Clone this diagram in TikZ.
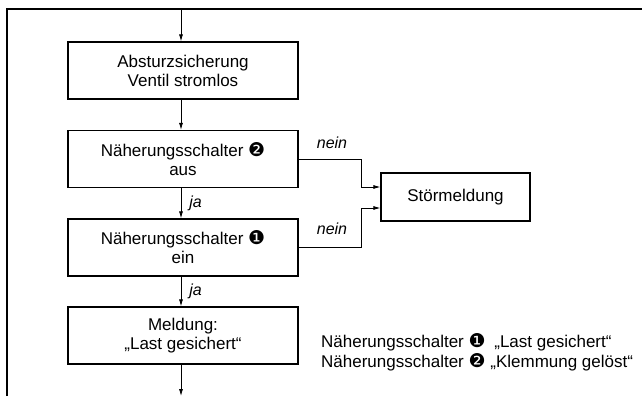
\documentclass[tikz,border=0pt]{standalone}
\usepackage{fontspec}
\setmainfont{Liberation Sans}
\newfontfamily\dingfont{DejaVu Sans}
\usetikzlibrary{arrows.meta}
\newcommand{\dingnum}[1]{{\dingfont\fontsize{19}{19}\selectfont #1}}

\begin{document}
\begin{tikzpicture}[x=1pt,y=-1pt,
  box/.style={draw,line width=1.1pt,minimum width=230pt,minimum height=57pt,
    align=center,inner sep=0pt,font=\fontsize{17}{19}\selectfont},
  flow/.style={line width=0.8pt,-{Latex[length=7pt,width=4pt]}},
  lbl/.style={font=\fontsize{16}{18}\selectfont\itshape,inner sep=0pt},
  legendtext/.style={font=\fontsize{17}{19}\selectfont,inner sep=0pt,anchor=base west},
  frame/.style={line width=1.5pt}]

\useasboundingbox (0,0) rectangle (642,396);

% outer frame (open at right and bottom)
\draw[frame] (7,396) -- (7,9) -- (642,9);

% process boxes
\node[box] (b1) at (183,70.5) {Absturzsicherung\\Ventil stromlos};
\node[box] (b2) at (183,159) {Näherungsschalter \dingnum{❷}\\aus};
\node[box] (b3) at (183,247.5) {Näherungsschalter \dingnum{❶}\\ein};
\node[box] (b4) at (183,335.5) {Meldung:\\„Last gesichert“};
\node[box,minimum width=149pt,minimum height=48pt] (st) at (455.5,197) {Störmeldung};

% free ends of the main flow
\coordinate (in) at (181,9);
\coordinate (out) at (181,396);

% main flow
\draw[flow] (in) -- (in |- b1.north);
\draw[flow] (b1.south -| in) -- (in |- b2.north);
\draw[flow] (b2.south -| in) -- node[lbl,right=8pt] (ja1) {ja} (in |- b3.north);
\draw[flow] (b3.south -| in) -- node[lbl,right=8pt] (ja2) {ja} (in |- b4.north);
\draw[flow] (b4.south -| in) -- (out);

% error branches
\draw[flow] (b2.east) -- ++(63,0) |- ([yshift=10pt]st.west);
\draw[flow] (b3.east) -- ++(63,0) |- ([yshift=-11pt]st.west);
\node[lbl,anchor=base] (n1) at (332,148) {nein};
\node[lbl,anchor=base] (n2) at (332,234) {nein};

% legend
\node[legendtext] (l1) at (321,347) {Näherungsschalter \dingnum{❶}\hspace{4pt} „Last gesichert“};
\node[legendtext] (l2) at (321,367) {Näherungsschalter \dingnum{❷} „Klemmung gelöst“};
\end{tikzpicture}
\end{document}
